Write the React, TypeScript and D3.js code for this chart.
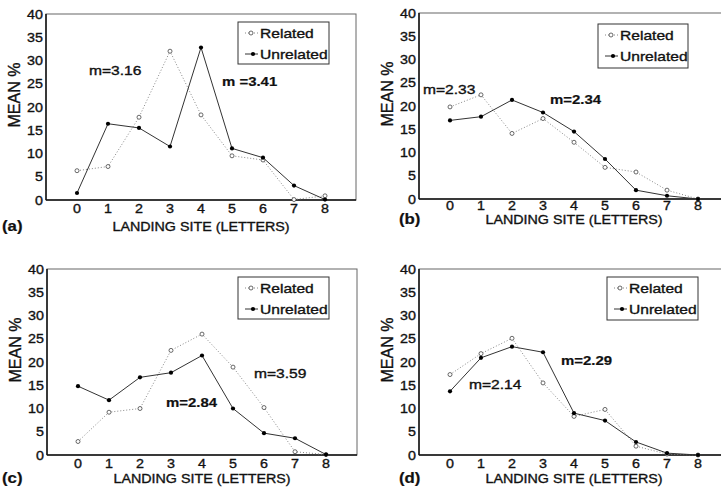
import React from 'react'
import * as d3 from 'd3'

// landing site positions (letters)
const sites = [0, 1, 2, 3, 4, 5, 6, 7, 8]
const yTicks = [0, 5, 10, 15, 20, 25, 30, 35, 40]

// mean % per landing site
const relatedA = [6.3, 7.2, 17.8, 32.0, 18.3, 9.5, 8.6, 0.1, 0.9]
const unrelatedA = [1.5, 16.4, 15.5, 11.5, 32.8, 11.1, 9.1, 3.1, 0.1]
const relatedB = [19.8, 22.4, 14.1, 17.3, 12.2, 6.8, 5.8, 1.9, 0]
const unrelatedB = [16.9, 17.7, 21.3, 18.6, 14.5, 8.6, 1.9, 0.7, 0]
const relatedC = [2.9, 9.2, 10.0, 22.5, 26.0, 18.9, 10.2, 0.7, 0.1]
const unrelatedC = [14.8, 11.8, 16.7, 17.7, 21.4, 10.0, 4.7, 3.6, 0.1]
const relatedD = [17.3, 21.8, 25.1, 15.5, 8.3, 9.8, 1.9, 0.2, 0]
const unrelatedD = [13.7, 20.9, 23.3, 22.1, 9.0, 7.4, 2.8, 0.4, 0]

const panelLabels = ['(a)', '(b)', '(c)', '(d)']
const relatedMeans = ['m=3.16', 'm=2.33', 'm=3.59', 'm=2.14']
const unrelatedMeans = ['m =3.41', 'm=2.34', 'm=2.84', 'm=2.29']
const seriesNames = ['Related', 'Unrelated']

const FONT = '"Liberation Sans", Arial, Helvetica, sans-serif'
const PW = 310
const PH = 186

// frame position, tick/title offsets, legend and annotation spots (px, relative to frame)
const layout = [
  {left: 46, top: 14, tickDy: 12.5, titleDy: 31, legend: [192, 8, 91, 42], relM: [43, 61], unrM: [176, 72]},
  {left: 419, top: 13, tickDy: 11, titleDy: 25, legend: [179, 11, 90, 44], relM: [4, 81], unrM: [131, 91]},
  {left: 47, top: 269, tickDy: 12.5, titleDy: 28, legend: [191, 8, 91, 42], relM: [207, 109], unrM: [119, 138]},
  {left: 419, top: 269, tickDy: 12.5, titleDy: 28, legend: [188, 8, 91, 43], relM: [50, 120], unrM: [142, 96]},
]

const T = ({x, y, size = 13, sx = 1.2, weight = 'normal', anchor = 'start', children}: any) => (
  <text
    transform={`translate(${x},${y}) scale(${sx},1)`}
    fontSize={size}
    fontWeight={weight}
    textAnchor={anchor}
    fontFamily={FONT}
    fill="#111"
    stroke="#111"
    strokeWidth={weight === 'bold' ? 0.2 : 0.35}
  >
    {children}
  </text>
)

function Panel({i, related, unrelated}: any) {
  const L = layout[i]
  const x = d3.scaleLinear().domain([-1, 9]).range([L.left, L.left + PW])
  const y = d3.scaleLinear().domain([0, 40]).range([L.top + PH, L.top])
  const line = d3
    .line<number>()
    .x((d, k) => x(sites[k]))
    .y((d) => y(d))
  const bottom = L.top + PH
  const [lx, ly, lw, lh] = L.legend
  const bx = L.left + lx
  const by = L.top + ly

  return (
    <g>
      <rect x={L.left} y={L.top} width={PW} height={PH} fill="none" stroke="#666" strokeWidth={1} />
      <line x1={L.left} x2={L.left} y1={L.top} y2={bottom} stroke="#111" strokeWidth={1.5} />
      <line x1={L.left} x2={L.left + PW} y1={bottom} y2={bottom} stroke="#111" strokeWidth={1.5} />

      {yTicks.map((t) => (
        <T key={t} x={L.left - 3} y={y(t) + 4.5} anchor="end" sx={1.1}>
          {t}
        </T>
      ))}
      {sites.map((s) => (
        <T key={s} x={x(s)} y={bottom + L.tickDy} anchor="middle" sx={1.1}>
          {s}
        </T>
      ))}

      <T x={L.left + PW / 2} y={bottom + L.titleDy} anchor="middle" sx={1.1}>
        LANDING SITE (LETTERS)
      </T>
      <text
        transform={`translate(${L.left - 26},${L.top + PH / 2 - 12}) rotate(-90)`}
        fontSize={16}
        textAnchor="middle"
        fontFamily={FONT}
        fill="#111"
        stroke="#111"
        strokeWidth={0.35}
      >
        MEAN %
      </text>
      <T x={L.left < 200 ? 2 : 399} y={bottom + L.titleDy} size={14} weight="bold" sx={1.2}>
        {panelLabels[i]}
      </T>

      <path d={line(related) || ''} fill="none" stroke="#888" strokeWidth={1} strokeDasharray="1,2" />
      <path d={line(unrelated) || ''} fill="none" stroke="#333" strokeWidth={1} />
      {related.map((v: number, k: number) => (
        <circle key={'r' + k} cx={x(sites[k])} cy={y(v)} r={2} fill="#fff" stroke="#444" strokeWidth={0.8} />
      ))}
      {unrelated.map((v: number, k: number) => (
        <circle key={'u' + k} cx={x(sites[k])} cy={y(v)} r={2.1} fill="#000" />
      ))}

      <T x={L.left + L.relM[0]} y={L.top + L.relM[1]}>
        {relatedMeans[i]}
      </T>
      <T x={L.left + L.unrM[0]} y={L.top + L.unrM[1]} weight="bold" sx={1.15}>
        {unrelatedMeans[i]}
      </T>

      <rect x={bx} y={by} width={lw} height={lh} fill="#fff" stroke="#333" strokeWidth={1} />
      {seriesNames.map((n, k) => {
        const cy = by + 11 + k * 21
        return (
          <g key={n}>
            <line
              x1={bx + 7}
              x2={bx + 20}
              y1={cy}
              y2={cy}
              stroke={k === 0 ? '#888' : '#333'}
              strokeDasharray={k === 0 ? '1,2' : undefined}
            />
            {k === 0 ? (
              <circle cx={bx + 13} cy={cy} r={2} fill="#fff" stroke="#444" strokeWidth={0.8} />
            ) : (
              <circle cx={bx + 15} cy={cy} r={2.1} fill="#000" />
            )}
            <T x={bx + 22} y={cy + 4.5}>
              {n}
            </T>
          </g>
        )
      })}
    </g>
  )
}

export default function App() {
  const data = [
    [relatedA, unrelatedA],
    [relatedB, unrelatedB],
    [relatedC, unrelatedC],
    [relatedD, unrelatedD],
  ]
  return (
    <div style={{position: 'absolute', left: 0, top: 0}}>
      <svg width={721} height={490} style={{display: 'block', background: '#fff'}}>
        {data.map((d, i) => (
          <Panel key={i} i={i} related={d[0]} unrelated={d[1]} />
        ))}
      </svg>
    </div>
  )
}
